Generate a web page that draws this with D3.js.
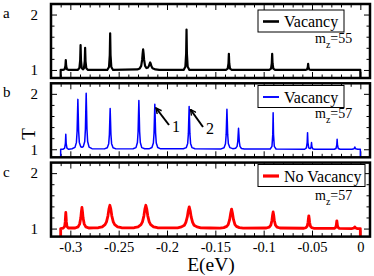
<!DOCTYPE html>
<html><head><meta charset="utf-8">
<script src="https://cdn.jsdelivr.net/npm/d3@7"></script>
<style>body{margin:0;background:#fff}svg{display:block}svg text{font-family:"Liberation Serif","DejaVu Serif",serif !important}</style>
</head><body><svg id="c" width="374" height="276"></svg>
<script>
// ---- data (E in eV, T) ----
const seriesA = [[-0.31,0],[-0.31,1],
[-0.3077,1],[-0.3059,1.014],[-0.3051,1.072],[-0.3047,1.18],[-0.3043,1.072],[-0.3035,1.014],[-0.3017,1],
[-0.2924,1],[-0.2906,1.036],[-0.2898,1.18],[-0.2894,1.45],[-0.289,1.18],[-0.2882,1.036],
[-0.287,1.01],[-0.2859,1.032],[-0.2851,1.16],[-0.2847,1.40],[-0.2843,1.16],[-0.2835,1.032],[-0.2817,1],
[-0.2618,1],[-0.26,1.053],[-0.2592,1.264],[-0.2588,1.66],[-0.2584,1.264],[-0.2576,1.053],[-0.2558,1],
[-0.2307,1.01],[-0.2282,1.028],[-0.2267,1.074],[-0.2257,1.185],[-0.2252,1.296],[-0.2247,1.37],[-0.2242,1.296],[-0.2237,1.185],[-0.2227,1.074],[-0.2212,1.035],
[-0.2198,1.04],[-0.2186,1.075],[-0.218,1.11],[-0.2174,1.135],[-0.2168,1.11],[-0.2162,1.07],[-0.215,1.03],[-0.212,1.01],[-0.208,1],
[-0.1828,1],[-0.181,1.058],[-0.1802,1.292],[-0.1798,1.73],[-0.1794,1.292],[-0.1786,1.058],[-0.1768,1],
[-0.139,1],[-0.1372,1.023],[-0.1364,1.116],[-0.136,1.29],[-0.1356,1.116],[-0.1348,1.023],[-0.133,1],
[-0.0942,1],[-0.0924,1.023],[-0.0916,1.116],[-0.0912,1.29],[-0.0908,1.116],[-0.09,1.023],[-0.0882,1],
[-0.057,1],[-0.0552,1.009],[-0.0544,1.044],[-0.054,1.11],[-0.0536,1.044],[-0.0528,1.009],[-0.051,1],
[0,1],[0,0]];

const seriesB = [[-0.31,0],[-0.31,1],
[-0.3077,1],[-0.3059,1.022],[-0.3051,1.108],[-0.3047,1.27],[-0.3043,1.108],[-0.3035,1.022],[-0.3017,1],
[-0.2982,1.009],[-0.2952,1.034],[-0.2937,1.124],[-0.293,1.324],[-0.2926,1.62],[-0.2922,1.90],[-0.2918,1.62],[-0.2914,1.324],[-0.2907,1.124],[-0.2892,1.046],[-0.2879,1.036],[-0.2866,1.048],
[-0.2851,1.14],[-0.2844,1.364],[-0.284,1.697],[-0.2836,2.01],[-0.2832,1.697],[-0.2828,1.364],[-0.2821,1.14],[-0.2806,1.038],[-0.2776,1.01],
[-0.2648,1.007],[-0.2618,1.028],[-0.2603,1.101],[-0.2596,1.265],[-0.2592,1.507],[-0.2588,1.735],[-0.2584,1.507],[-0.258,1.265],[-0.2573,1.101],[-0.2558,1.028],[-0.2528,1.007],
[-0.2351,1.009],[-0.2321,1.030],[-0.2306,1.121],[-0.2299,1.317],[-0.2295,1.607],[-0.2291,1.88],[-0.2287,1.607],[-0.2283,1.317],[-0.2276,1.121],[-0.2261,1.03],[-0.2231,1.009],
[-0.2186,1.008],[-0.2156,1.031],[-0.2141,1.112],[-0.2134,1.292],[-0.213,1.559],[-0.2126,1.81],[-0.2122,1.559],[-0.2118,1.292],[-0.2111,1.112],[-0.2096,1.031],[-0.2066,1.008],
[-0.1831,1.008],[-0.1801,1.029],[-0.1786,1.106],[-0.1779,1.277],[-0.1775,1.531],[-0.1771,1.77],[-0.1767,1.531],[-0.1763,1.277],[-0.1756,1.106],[-0.1741,1.029],[-0.1711,1.008],
[-0.144,1.007],[-0.141,1.027],[-0.1395,1.099],[-0.1388,1.259],[-0.1384,1.497],[-0.138,1.72],[-0.1376,1.497],[-0.1372,1.259],[-0.1365,1.099],[-0.135,1.03],
[-0.132,1.011],[-0.129,1.018],[-0.1275,1.052],[-0.1268,1.137],[-0.1264,1.262],[-0.126,1.38],[-0.1256,1.262],[-0.1252,1.137],[-0.1245,1.052],[-0.123,1.014],[-0.12,1.004],
[-0.0932,1.005],[-0.0914,1.053],[-0.0906,1.264],[-0.0902,1.66],[-0.0898,1.264],[-0.089,1.053],[-0.0872,1.005],
[-0.0576,1.0],[-0.0558,1.024],[-0.055,1.12],[-0.0546,1.30],[-0.0542,1.12],[-0.0534,1.024],[-0.052,1.01],[-0.0513,1.02],[-0.0509,1.048],[-0.0505,1.12],[-0.0501,1.048],[-0.0493,1.01],[-0.0475,1.0],
[-0.027,1],[-0.0252,1.014],[-0.0244,1.072],[-0.024,1.18],[-0.0236,1.072],[-0.0228,1.014],[-0.021,1],
[-0.0087,1],[-0.0065,1.01],[-0.0057,1.04],[-0.0049,1.01],[-0.0027,1],
[0,1],[0,0]];

const seriesC = [[-0.31,0],[-0.31,1],
[-0.3072,1.01],[-0.3059,1.04],[-0.3053,1.12],[-0.305,1.21],[-0.3047,1.29],[-0.3044,1.21],[-0.3041,1.12],[-0.3035,1.04],[-0.3022,1.01],
[-0.295,1.01],[-0.292,1.03],[-0.2904,1.08],[-0.2892,1.19],[-0.2886,1.30],[-0.288,1.38],[-0.2874,1.30],[-0.2868,1.19],[-0.2856,1.08],[-0.284,1.03],[-0.281,1.01],
[-0.276,1.012],[-0.271,1.015],[-0.267,1.03],[-0.2641,1.07],[-0.2626,1.12],[-0.2611,1.23],[-0.2601,1.35],[-0.2591,1.42],[-0.2581,1.35],[-0.2571,1.23],[-0.2556,1.12],[-0.2541,1.07],[-0.2511,1.03],[-0.2471,1.015],
[-0.2405,1.012],
[-0.2339,1.015],[-0.2299,1.03],[-0.2269,1.07],[-0.2254,1.12],[-0.2239,1.23],[-0.2229,1.35],[-0.2219,1.42],[-0.2209,1.35],[-0.2199,1.23],[-0.2184,1.12],[-0.2169,1.07],[-0.2139,1.03],[-0.2099,1.015],
[-0.1995,1.012],
[-0.189,1.013],[-0.185,1.03],[-0.182,1.06],[-0.1805,1.11],[-0.179,1.21],[-0.178,1.32],[-0.177,1.39],[-0.176,1.32],[-0.175,1.21],[-0.1735,1.11],[-0.172,1.06],[-0.169,1.03],[-0.165,1.013],
[-0.155,1.01],
[-0.1452,1.008],[-0.1412,1.017],[-0.1382,1.04],[-0.1367,1.07],[-0.1352,1.16],[-0.1342,1.27],[-0.1332,1.35],[-0.1322,1.27],[-0.1312,1.16],[-0.1297,1.07],[-0.1282,1.04],[-0.1252,1.017],[-0.1212,1.008],
[-0.0972,1.01],[-0.0942,1.025],[-0.0926,1.06],[-0.0914,1.15],[-0.0908,1.24],[-0.0902,1.30],[-0.0896,1.24],[-0.089,1.15],[-0.0878,1.06],[-0.0862,1.025],[-0.0832,1.01],
[-0.0583,1.006],[-0.0563,1.015],[-0.0549,1.046],[-0.0541,1.115],[-0.0537,1.184],[-0.0533,1.23],[-0.0529,1.184],[-0.0525,1.115],[-0.0517,1.046],[-0.0503,1.015],[-0.0483,1.006],
[-0.0268,1.005],[-0.0255,1.021],[-0.0249,1.057],[-0.0246,1.103],[-0.0243,1.14],[-0.024,1.103],[-0.0237,1.057],[-0.0231,1.021],[-0.0218,1.005],
[-0.009,1.0],[-0.0065,1.01],[-0.0057,1.03],[-0.0049,1.01],[-0.003,1.0],
[0,1],[0,0]];

const panelLetters = ["a","b","c"];
const legendLabels = ["Vacancy","Vacancy","No Vacancy"];
const mzValues = ["55","57","57"];
const colors = ["#000000","#0000ff","#ff0000"];
const xMajor = [-0.3,-0.25,-0.2,-0.15,-0.1,-0.05,0];
const xMinor = [-0.32,-0.31,-0.29,-0.28,-0.27,-0.26,-0.24,-0.23,-0.22,-0.21,-0.19,-0.18,-0.17,-0.16,-0.14,-0.13,-0.12,-0.11,-0.09,-0.08,-0.07,-0.06,-0.04,-0.03,-0.02,-0.01,0.01];
const yMajor = [1,2];
const yMinor = [1.2,1.4,1.6,1.8];
const xTickLabels = ["-0.3","-0.25","-0.2","-0.15","-0.1","-0.05","0"];

// ---- layout ----
const FONT = '"Liberation Serif","DejaVu Serif",serif';
const svg = d3.select("#c");
const L = 51, R = 370, PH = 74;
const tops = [4, 83.3, 162.6];
const strokeW = [2.2, 1.5, 2.8];
const legendW = [86, 86, 107];
const legendTop = [10, 85.5, 164.5];
const mzBase = [43, 118, 200];
const series = [seriesA, seriesB, seriesC];

const x = d3.scaleLinear().domain([-0.32, 0.01]).range([L, R]);

series.forEach((data, i) => {
  const top = tops[i], bot = top + PH;
  const y = d3.scaleLinear().domain([0.855, 2.19]).range([bot, top]);
  const g = svg.append("g").attr("font-family", FONT);
  const cid = "clip" + i;
  svg.append("clipPath").attr("id", cid).append("rect")
    .attr("x", L).attr("y", top).attr("width", R - L).attr("height", PH);

  const tk = (axis, tr) => g.append("g").attr("transform", tr).call(axis)
      .attr("font-family", FONT)
      .call(s => s.select(".domain").remove()).call(s => s.selectAll(".tick line").attr("stroke-width", 1));
  tk(d3.axisBottom(x).tickValues(xMinor).tickSize(-3.5).tickFormat(""), `translate(0,${bot})`);
  tk(d3.axisTop(x).tickValues(xMinor).tickSize(-3.5).tickFormat(""), `translate(0,${top})`);
  tk(d3.axisTop(x).tickValues(xMajor).tickSize(-6).tickFormat(""), `translate(0,${top})`);
  if (i < 2) tk(d3.axisBottom(x).tickValues(xMajor).tickSize(-6).tickFormat(""), `translate(0,${bot})`);
  else {
    const ax = tk(d3.axisBottom(x).tickValues(xMajor).tickSizeInner(-6).tickSizeOuter(0).tickPadding(5)
      .tickFormat((d, k) => xTickLabels[k]), `translate(0,${bot})`);
    ax.selectAll("text").attr("font-size", 14.5).attr("fill", "#000").attr("font-family", FONT);
  }
  tk(d3.axisLeft(y).tickValues(yMinor).tickSize(-3.5).tickFormat(""), `translate(${L},0)`);
  tk(d3.axisRight(y).tickValues(yMinor).tickSize(-3.5).tickFormat(""), `translate(${R},0)`);
  tk(d3.axisRight(y).tickValues(yMajor).tickSize(-6).tickFormat(""), `translate(${R},0)`);
  const ay = tk(d3.axisLeft(y).tickValues(yMajor).tickSizeInner(-6).tickSizeOuter(0).tickPadding(13)
      .tickFormat(d3.format("d")), `translate(${L},0)`);
  ay.selectAll("text").attr("font-size", 15).attr("fill", "#000").attr("font-family", FONT);

  const line = d3.line().x(d => x(d[0])).y(d => y(d[1])).curve(d3.curveLinear);
  g.append("path").datum(data).attr("d", line).attr("clip-path", `url(#${cid})`)
    .attr("fill", "none").attr("stroke", colors[i]).attr("stroke-width", strokeW[i])
    .attr("stroke-linejoin", "round");

  g.append("rect").attr("x", L).attr("y", top).attr("width", R - L).attr("height", PH)
    .attr("fill", "none").attr("stroke", "#000").attr("stroke-width", 2.5);

  const lt = legendTop[i];
  g.append("rect").attr("x", 258).attr("y", lt).attr("width", legendW[i]).attr("height", 22)
    .attr("fill", "#fff").attr("stroke", "#000").attr("stroke-width", 1);
  g.append("line").attr("x1", 263).attr("x2", 279).attr("y1", lt + 11.5).attr("y2", lt + 11.5)
    .attr("stroke", colors[i]).attr("stroke-width", strokeW[i] + 0.4);
  g.append("text").attr("x", 284).attr("y", lt + 17).attr("font-size", 16)
    .attr("font-family", FONT).text(legendLabels[i]);

  const mz = g.append("text").attr("x", 315).attr("y", mzBase[i]).attr("font-size", 14)
    .attr("font-family", FONT);
  mz.append("tspan").text("m");
  mz.append("tspan").attr("font-size", 10).attr("dy", 5).text("z");
  mz.append("tspan").attr("dy", -5).text("=" + mzValues[i]);

  svg.append("text").attr("x", 3).attr("y", top + 14).attr("font-size", 15)
    .attr("font-family", FONT).text(panelLetters[i]);
});

svg.append("text").attr("transform", "translate(35,134) rotate(-90)").attr("text-anchor", "middle")
  .attr("font-size", 19).attr("font-family", FONT).text("T");
svg.append("text").attr("x", 211).attr("y", 271).attr("text-anchor", "middle")
  .attr("font-size", 19.5).attr("font-family", FONT).text("E(eV)");

const arrows = [{x1:169,y1:125,x2:156,y2:108,label:"1",lx:172,ly:132},
                {x1:203,y1:127,x2:190.5,y2:109.5,label:"2",lx:206,ly:134}];
svg.append("defs").append("marker").attr("id","ah").attr("viewBox","0 0 10 10")
  .attr("refX",9).attr("refY",5).attr("markerWidth",3.5).attr("markerHeight",3.5).attr("orient","auto")
  .append("path").attr("d","M1,1 L9,5 L1,9").attr("fill","none").attr("stroke","#000")
  .attr("stroke-width",2).attr("stroke-linejoin","miter");
arrows.forEach(a => {
  svg.append("line").attr("x1",a.x1).attr("y1",a.y1).attr("x2",a.x2).attr("y2",a.y2)
    .attr("stroke","#000").attr("stroke-width",2).attr("marker-end","url(#ah)");
  svg.append("text").attr("x",a.lx).attr("y",a.ly).attr("font-size",16)
    .attr("font-family", FONT).text(a.label);
});
</script></body></html>
